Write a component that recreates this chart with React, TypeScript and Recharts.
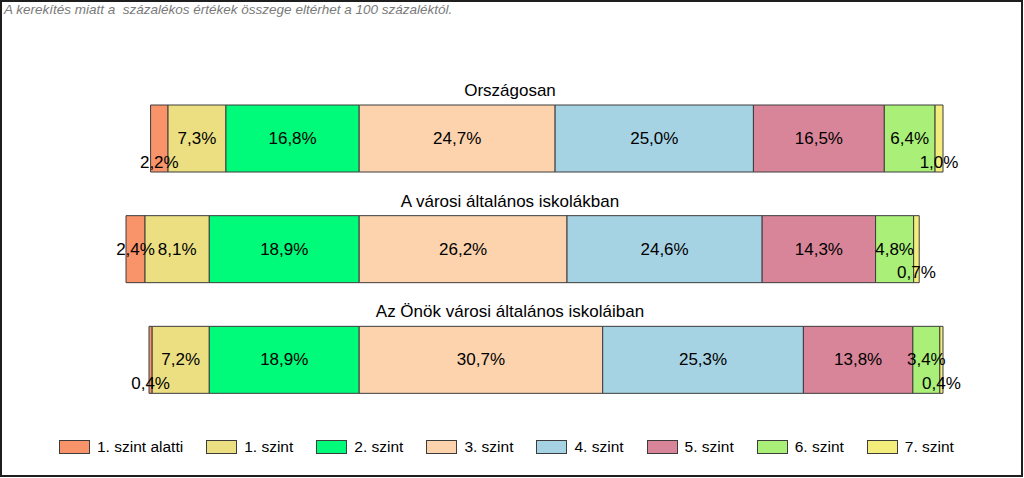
import { Bar, BarChart, LabelList, XAxis, YAxis } from "recharts";

const groups = [
  "Országosan",
  "A városi általános iskolákban",
  "Az Önök városi általános iskoláiban",
];

const levelNames = [
  "1. szint alatti",
  "1. szint",
  "2. szint",
  "3. szint",
  "4. szint",
  "5. szint",
  "6. szint",
  "7. szint",
];

const levelColors = [
  "#F9936A",
  "#EBDF82",
  "#00FA7A",
  "#FDD3AE",
  "#A6D3E4",
  "#D98599",
  "#A9EF78",
  "#F3EE7C",
];

// egy-egy tömb szintenként, a három csoport sorrendjében
const alatti = [2.2, 2.4, 0.4];
const szint1 = [7.3, 8.1, 7.2];
const szint2 = [16.8, 18.9, 18.9];
const szint3 = [24.7, 26.2, 30.7];
const szint4 = [25.0, 24.6, 25.3];
const szint5 = [16.5, 14.3, 13.8];
const szint6 = [6.4, 4.8, 3.4];
const szint7 = [1.0, 0.7, 0.4];

const levels = [alatti, szint1, szint2, szint3, szint4, szint5, szint6, szint7];

// a sávok a 2. és 3. szint határánál igazodnak
const leftSums = groups.map((_, i) => alatti[i] + szint1[i] + szint2[i]);
const rightSums = groups.map((_, i) =>
  [szint3, szint4, szint5, szint6, szint7].reduce((s, a) => s + a[i], 0)
);
const maxLeft = Math.max(...leftSums);
const maxRight = Math.max(...rightSums);

const data = groups.map((name, i) => {
  const row: Record<string, number | string> = {
    name,
    spacer: maxLeft - leftSums[i],
  };
  levels.forEach((arr, k) => {
    row["l" + k] = arr[i];
  });
  return row;
});

// kis értékek felirata a sáv aljára kerül
const LOW_LABEL_LIMIT = 2.3;
const FONT = "'Liberation Sans', Arial, sans-serif";

const SegmentLabel = (props: any) => {
  const { x, y, width, height, value } = props;
  const v = Number(value);
  const low = v < LOW_LABEL_LIMIT;
  return (
    <text
      x={Number(x) + Number(width) / 2}
      y={low ? Number(y) + Number(height) - 10 : Number(y) + Number(height) / 2}
      textAnchor="middle"
      dominantBaseline="central"
      fontSize={17}
      fontFamily={FONT}
      fill="#000"
    >
      {v.toFixed(1).replace(".", ",") + "%"}
    </text>
  );
};

// csoportcím a sáv fölött, a kép közepére igazítva
const GroupTitle = (props: any) => {
  const { y, value } = props;
  return (
    <text
      x={510}
      y={Number(y) - 9}
      textAnchor="middle"
      fontSize={17}
      fontFamily={FONT}
      fill="#000"
    >
      {value}
    </text>
  );
};

export default function App() {
  return (
    <div
      style={{
        position: "absolute",
        left: 0,
        top: 0,
        width: 1024,
        height: 478,
        background: "#fff",
        fontFamily: FONT,
      }}
    >
      <div
        style={{
          position: "absolute",
          left: 0,
          top: 0,
          width: 1023,
          height: 477,
          boxSizing: "border-box",
          border: "2px solid #1e1e1e",
        }}
      />
      <div
        style={{
          position: "absolute",
          left: 4,
          top: 2,
          fontSize: 13.5,
          fontStyle: "italic",
          color: "#7a7a7a",
          whiteSpace: "pre",
        }}
      >
        {"A kerekítés miatt a  százalékos értékek összege eltérhet a 100 százaléktól."}
      </div>
      <div style={{ position: "absolute", left: 0, top: 0 }}>
        <BarChart
          width={1024}
          height={478}
          data={data}
          layout="vertical"
          margin={{ top: 83, right: 81, bottom: 63, left: 126 }}
        >
          <XAxis type="number" domain={[0, maxLeft + maxRight]} hide />
          <YAxis type="category" dataKey="name" hide />
          <Bar
            dataKey="spacer"
            stackId="s"
            fill="transparent"
            barSize={67}
            isAnimationActive={false}
          />
          {levelNames.map((n, k) => (
            <Bar
              key={n}
              dataKey={"l" + k}
              name={n}
              stackId="s"
              fill={levelColors[k]}
              stroke="#3c3c3c"
              strokeWidth={1}
              barSize={67}
              isAnimationActive={false}
            >
              <LabelList dataKey={"l" + k} content={<SegmentLabel />} />
              {k === 3 && <LabelList dataKey="name" content={<GroupTitle />} />}
            </Bar>
          ))}
        </BarChart>
      </div>
      <div
        style={{
          position: "absolute",
          left: 59,
          top: 438,
          display: "flex",
          fontSize: 15.5,
          color: "#000",
          whiteSpace: "nowrap",
        }}
      >
        {levelNames.map((n, k) => (
          <div
            key={n}
            style={{
              flexShrink: 0,
              display: "flex",
              alignItems: "center",
              marginRight: 23,
            }}
          >
            <span
              style={{
                display: "inline-block",
                flexShrink: 0,
                width: 31,
                height: 14,
                boxSizing: "border-box",
                border: "1px solid #3c3c3c",
                background: levelColors[k],
                marginRight: 7,
              }}
            />
            <span>{n}</span>
          </div>
        ))}
      </div>
    </div>
  );
}
